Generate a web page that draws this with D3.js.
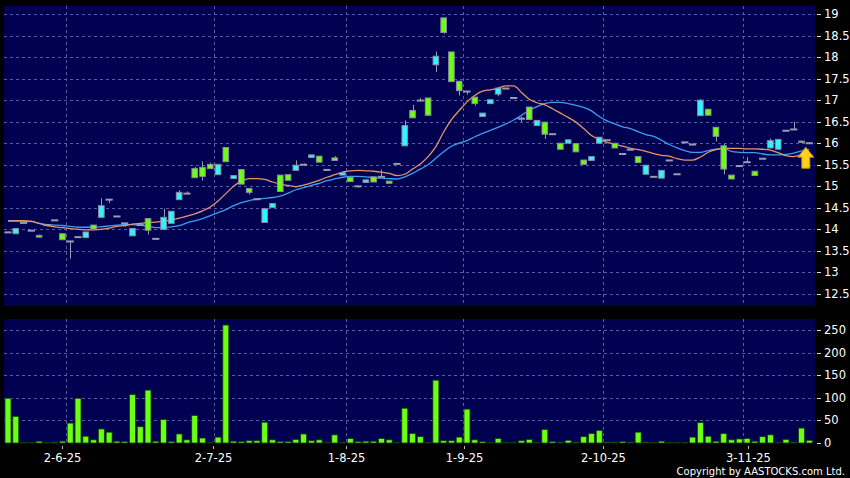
<!DOCTYPE html>
<html><head><meta charset="utf-8">
<script src="https://cdn.jsdelivr.net/npm/d3@7"></script>
<style>
html,body{margin:0;padding:0;background:#000;}
svg{display:block;}
</style></head>
<body>
<svg id="chart" width="850" height="478"></svg>
<script>
// ---- data ----
const openP  = [13.93,13.90,14.15,13.97,13.86,14.10,14.21,13.90,13.72,13.82,13.81,14.10,14.28,14.69,14.30,14.14,13.85,14.10,14.25,13.78,14.00,14.14,14.69,14.83,15.41,15.44,15.51,15.27,15.90,15.18,15.39,14.95,14.70,14.16,14.51,15.26,15.27,15.37,15.50,15.67,15.70,15.38,15.66,15.26,15.21,15.00,15.09,15.22,15.22,15.12,15.52,15.94,16.76,16.99,17.05,17.82,18.91,18.12,17.44,17.20,17.07,16.62,16.92,17.14,17.27,17.05,16.57,16.84,16.41,16.49,16.21,16.00,16.00,15.99,15.61,15.60,16.00,16.07,16.00,15.75,15.85,15.69,15.28,15.22,15.19,15.60,15.28,16.02,15.97,16.64,16.79,16.37,15.94,15.26,15.47,15.56,15.35,15.64,15.89,15.86,16.29,16.32,16.05,16.00];
const highP  = [13.93,14.02,14.15,13.97,13.88,14.10,14.21,13.90,13.72,13.82,13.94,14.10,14.72,14.69,14.30,14.14,14.02,14.10,14.25,13.78,14.48,14.42,14.91,14.88,15.45,15.58,15.55,15.51,15.90,15.25,15.39,14.95,14.70,14.48,14.60,15.26,15.27,15.60,15.53,15.73,15.70,15.38,15.70,15.32,15.21,15.00,15.15,15.22,15.39,15.12,15.52,16.53,16.89,17.05,17.05,18.13,18.91,18.12,17.44,17.20,17.07,16.70,17.01,17.28,17.27,17.05,16.62,16.84,16.53,16.49,16.21,16.00,16.08,15.99,15.61,15.69,16.14,16.07,16.00,15.75,15.85,15.69,15.49,15.22,15.37,15.60,15.28,16.02,16.00,17.02,16.79,16.37,15.99,15.26,15.47,15.68,15.35,15.64,16.11,16.09,16.29,16.50,16.05,16.00];
const lowP   = [13.93,13.90,14.15,13.97,13.82,14.10,14.21,13.76,13.32,13.82,13.81,14.01,14.28,14.61,14.30,14.06,13.85,14.10,13.88,13.78,14.00,14.14,14.69,14.83,15.20,15.13,15.41,15.27,15.57,15.18,15.05,14.81,14.70,14.16,14.51,14.88,15.14,15.37,15.50,15.67,15.56,15.38,15.60,15.26,15.11,14.97,15.09,15.10,15.22,15.07,15.52,15.94,16.59,16.99,16.65,17.65,18.54,17.43,17.11,17.13,16.87,16.62,16.92,17.09,17.27,17.05,16.49,16.55,16.41,16.10,16.21,15.86,16.00,15.80,15.51,15.60,16.00,16.07,15.89,15.75,15.85,15.55,15.28,15.22,15.19,15.60,15.28,16.02,15.95,16.64,16.65,16.04,15.28,15.17,15.47,15.56,15.25,15.64,15.89,15.86,16.29,16.32,16.02,16.00];
const closeP = [13.93,14.02,14.15,13.97,13.82,14.10,14.21,13.76,13.72,13.82,13.94,14.01,14.55,14.69,14.30,14.14,14.02,14.10,13.98,13.78,14.28,14.42,14.86,14.83,15.20,15.23,15.41,15.51,15.57,15.25,15.05,14.86,14.70,14.48,14.60,14.88,15.14,15.49,15.50,15.73,15.56,15.38,15.60,15.32,15.11,15.00,15.15,15.10,15.22,15.07,15.52,16.41,16.59,16.99,16.65,18.02,18.57,17.43,17.22,17.20,16.92,16.70,17.01,17.28,17.27,17.05,16.57,16.55,16.53,16.21,16.21,15.86,16.08,15.80,15.51,15.69,16.14,16.07,15.89,15.75,15.85,15.55,15.49,15.22,15.37,15.60,15.28,16.02,15.97,17.00,16.65,16.16,15.40,15.17,15.47,15.56,15.25,15.64,16.06,16.09,16.29,16.32,16.02,16.00];
const volume = [99,59,1,1,4,1,2,4,44,99,15,7,31,24,4,3,107,36,117,4,52,3,20,7,61,11,1,13,261,4,3,5,5,46,7,3,3,8,20,5,7,1,18,1,10,3,4,4,10,7,1,77,21,14,1,139,5,5,13,75,7,3,1,10,1.5,1.5,5,8,1.5,30,3,2,6,2,14,21,28,2,2,3,2,24,2,1,4,1,1,0.5,13,45,15,4,21,7,9,10,4,14,18,0.5,8,2,33,6];
const maShort = [14.19,14.20,14.20,14.19,14.14,14.09,14.06,14.04,14.02,14.00,13.99,13.99,14.00,14.03,14.07,14.09,14.12,14.14,14.16,14.17,14.19,14.22,14.26,14.31,14.36,14.43,14.52,14.66,14.83,15.00,15.12,15.18,15.18,15.16,15.10,15.05,15.02,14.99,15.03,15.08,15.14,15.21,15.27,15.33,15.36,15.37,15.36,15.35,15.33,15.30,15.25,15.28,15.40,15.52,15.69,15.92,16.26,16.55,16.76,16.96,17.11,17.21,17.24,17.28,17.33,17.33,17.18,17.02,16.94,16.89,16.80,16.70,16.60,16.49,16.34,16.18,16.09,16.02,15.98,15.93,15.88,15.85,15.81,15.76,15.72,15.70,15.64,15.61,15.61,15.68,15.79,15.85,15.88,15.88,15.88,15.87,15.87,15.86,15.84,15.78,15.71,15.69,15.73,15.78];
const maLong  = [14.20,14.20,14.19,14.18,14.14,14.11,14.10,14.09,14.07,14.05,14.05,14.05,14.06,14.08,14.10,14.11,14.11,14.10,14.07,14.04,14.04,14.06,14.09,14.15,14.20,14.25,14.32,14.39,14.46,14.55,14.62,14.67,14.70,14.72,14.74,14.77,14.84,14.92,14.97,15.02,15.07,15.13,15.17,15.21,15.23,15.23,15.22,15.20,15.19,15.18,15.17,15.22,15.30,15.40,15.50,15.65,15.80,15.93,16.00,16.06,16.15,16.23,16.30,16.37,16.45,16.54,16.65,16.76,16.85,16.92,16.95,16.95,16.92,16.88,16.83,16.75,16.62,16.52,16.45,16.38,16.34,16.27,16.20,16.16,16.07,15.97,15.89,15.83,15.79,15.79,15.83,15.86,15.88,15.81,15.79,15.78,15.78,15.75,15.73,15.73,15.74,15.77,15.82,15.86];
const dateLabels = ["2-6-25","2-7-25","1-8-25","1-9-25","2-10-25","3-11-25"];
const dateLabelIdx = [7, 26.3, 43.5, 58.6, 76.5, 95.1];
const monthGridIdx = [7.5, 26.5, 43.5, 58.5, 76.5, 94.5];
const priceTicks = [12.5,13,13.5,14,14.5,15,15.5,16,16.5,17,17.5,18,18.5,19];
const volTicks = [0,50,100,150,200,250];

// ---- layout ----
const N = openP.length;
const svg = d3.select("#chart");
const W = 850, H = 478;
const left = 4, right = 815;
const pTop = 6, pBot = 306, vTop = 319, vBot = 443;
const font = "'DejaVu Sans', Verdana, sans-serif";
const bg = "#000050", gridC = "#5a5aa2";
const cyan = "#30f4ff", lime = "#6cff12", gray = "#9a9ab0";

svg.append("rect").attr("width", W).attr("height", H).attr("fill", "#000");

const x = d3.scaleLinear().domain([-0.5, N - 0.5]).range([4.1, 813.2]);
const bw = 6.6;
const y = d3.scaleLinear().domain([12.5, 19]).range([294, 14]);
const yv = d3.scaleLinear().domain([0, 250]).range([vBot, 330]);

// panels
svg.append("rect").attr("x", left).attr("y", pTop).attr("width", right - left).attr("height", pBot - pTop).attr("fill", bg);
svg.append("rect").attr("x", left).attr("y", vTop).attr("width", right - left).attr("height", vBot - vTop).attr("fill", bg);

svg.append("clipPath").attr("id", "cp").append("rect").attr("x", left).attr("y", pTop).attr("width", right - left).attr("height", pBot - pTop);

// grids
const g = svg.append("g").attr("stroke", gridC).attr("stroke-dasharray", "3,3").attr("stroke-width", 1);
priceTicks.forEach(t => g.append("line").attr("x1", left).attr("x2", right).attr("y1", Math.round(y(t)) + 0.5).attr("y2", Math.round(y(t)) + 0.5));
volTicks.filter(t => t > 0).forEach(t => g.append("line").attr("x1", left).attr("x2", right).attr("y1", Math.round(yv(t)) + 0.5).attr("y2", Math.round(yv(t)) + 0.5));
monthGridIdx.forEach(i => {
  const xx = Math.round(x(i)) + 0.5;
  g.append("line").attr("x1", xx).attr("x2", xx).attr("y1", pTop).attr("y2", pBot);
  g.append("line").attr("x1", xx).attr("x2", xx).attr("y1", vTop).attr("y2", vBot);
});

// moving averages
const plot = svg.append("g").attr("clip-path", "url(#cp)");
const line = arr => d3.line().x((d, i) => x(i)).y(d => y(d)).curve(d3.curveMonotoneX)(arr);
plot.append("path").attr("d", line(maLong)).attr("fill", "none").attr("stroke", "#3a9ef0").attr("stroke-width", 1.3);
plot.append("path").attr("d", line(maShort)).attr("fill", "none").attr("stroke", "#e8946a").attr("stroke-width", 1.3);

// candles
const cg = plot.append("g");
d3.range(N).forEach(i => {
  const o = openP[i], c = closeP[i], h = highP[i], l = lowP[i];
  const cx = x(i);
  if (h > Math.max(o, c) || l < Math.min(o, c)) {
    cg.append("line").attr("x1", Math.round(cx) + 0.5).attr("x2", Math.round(cx) + 0.5)
      .attr("y1", y(h)).attr("y2", y(l)).attr("stroke", gray).attr("stroke-width", 1);
  }
  if (o === c) {
    cg.append("rect").attr("x", cx - bw / 2 - 0.3).attr("y", y(o) - 1).attr("width", bw + 0.6).attr("height", 2)
      .attr("fill", gray);
  } else {
    const top = y(Math.max(o, c)), bot = y(Math.min(o, c));
    cg.append("rect").attr("x", cx - bw / 2 + 0.5).attr("y", top).attr("width", bw - 1).attr("height", Math.max(1, bot - top))
      .attr("fill", c > o ? cyan : lime).attr("stroke", "#8c8ca0").attr("stroke-width", 1);
  }
});

// arrow marker on last bar
const ax = x(N - 1) - 3.5, ay = y(closeP[N - 1]) + 4;
svg.append("path")
  .attr("d", `M${ax},${ay} L${ax + 8},${ay + 10} L${ax + 4},${ay + 10} L${ax + 4},${ay + 21} L${ax - 4},${ay + 21} L${ax - 4},${ay + 10} L${ax - 8},${ay + 10} Z`)
  .attr("fill", "#ffd21a").attr("stroke", "#c98a00").attr("stroke-width", 1);

// volume bars
svg.append("g").selectAll("rect").data(volume).join("rect")
  .attr("x", (d, i) => x(i) - bw / 2 + 0.3)
  .attr("y", d => yv(d))
  .attr("width", bw - 0.6)
  .attr("height", d => vBot - yv(d))
  .attr("fill", lime).attr("stroke", "#123a10").attr("stroke-width", 0.8);

// right axes
const axT = svg.append("g").attr("font-family", font).attr("font-size", 11.5).attr("fill", "#fff");
priceTicks.forEach(t => {
  axT.append("line").attr("x1", 817).attr("x2", 821).attr("y1", Math.round(y(t)) + 0.5).attr("y2", Math.round(y(t)) + 0.5).attr("stroke", "#ddd");
  axT.append("text").attr("x", 824).attr("y", y(t)).attr("dy", "0.35em").text(t);
});
volTicks.forEach(t => {
  axT.append("line").attr("x1", 817).attr("x2", 821).attr("y1", Math.round(yv(t)) + 0.5).attr("y2", Math.round(yv(t)) + 0.5).attr("stroke", "#ddd");
  axT.append("text").attr("x", 824).attr("y", yv(t)).attr("dy", "0.35em").text(t);
});

// date axis
const dx = svg.append("g").attr("font-family", font).attr("font-size", 11.5).attr("fill", "#fff");
dateLabels.forEach((lab, j) => {
  const xx = Math.round(x(dateLabelIdx[j])) + 0.5;
  dx.append("line").attr("x1", xx).attr("x2", xx).attr("y1", 446).attr("y2", 449).attr("stroke", "#bbb");
  dx.append("text").attr("x", xx).attr("y", 462).attr("text-anchor", "middle").text(lab);
});

svg.append("text").attr("x", 845).attr("y", 475).attr("text-anchor", "end")
  .attr("font-family", font).attr("font-size", 10).attr("fill", "#fff").text("Copyright by AASTOCKS.com Ltd.");
</script>
</body></html>
